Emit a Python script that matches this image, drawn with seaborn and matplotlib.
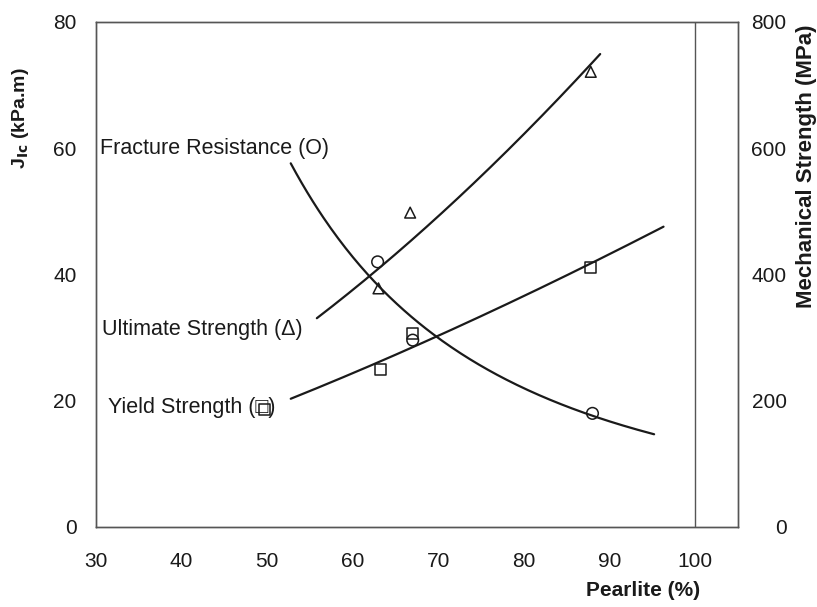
""" Fracture resistance and mechanical strength versus pearlite content
"""

import numpy as np
import pandas as pd
import matplotlib
matplotlib.use('Agg')
import matplotlib.pyplot as plt
import seaborn as sns

# Data
frac_pearlite = [62.9, 67.0, 88.0]
frac_jic = [42.0, 29.6, 18.0]            # kPa.m

uts_pearlite = [63.0, 66.7, 87.8]
uts_mpa = [378, 498, 721]                # MPa

ys_pearlite = [49.7, 63.2, 67.0, 87.8]
ys_mpa = [186, 249, 306, 411]            # MPa

# x extent of each drawn trendline
frac_range = (52.75, 95.2)
uts_range = (55.8, 88.9)
ys_range = (52.75, 96.3)


def power_trend(x, y, xr, n=200):
    # power law trendline, least squares in log-log space
    b, a = np.polyfit(np.log(x), np.log(y), 1)
    xs = np.linspace(xr[0], xr[1], n)
    return pd.DataFrame({'x': xs, 'y': np.exp(a) * xs ** b})


if __name__ == '__main__':

    sns.set_style('white')
    plt.rcParams['font.family'] = ['Liberation Sans', 'DejaVu Sans']

    fig = plt.figure(figsize=(8.17, 6.07), dpi=100)
    ax = fig.add_axes([0.1175, 0.1318, 0.7858, 0.832])
    ax2 = ax.twinx()

    line_kw = {'color': '#1a1a1a', 'lw': 1.6}
    mk_kw = {'facecolor': 'none', 'edgecolor': '#1a1a1a', 'linewidth': 1.1,
             'zorder': 5}

    # fracture resistance on the left axis
    sns.lineplot(data=power_trend(frac_pearlite, frac_jic, frac_range),
                 x='x', y='y', ax=ax, **line_kw)
    sns.scatterplot(x=frac_pearlite, y=frac_jic, ax=ax, marker='o', s=70,
                    **mk_kw)

    # strengths on the right axis
    sns.lineplot(data=power_trend(uts_pearlite, uts_mpa, uts_range),
                 x='x', y='y', ax=ax2, **line_kw)
    sns.lineplot(data=power_trend(ys_pearlite, ys_mpa, ys_range),
                 x='x', y='y', ax=ax2, **line_kw)
    sns.scatterplot(x=uts_pearlite, y=uts_mpa, ax=ax2, marker='^', s=60,
                    **mk_kw)
    sns.scatterplot(x=ys_pearlite, y=ys_mpa, ax=ax2, marker='s', s=60,
                    **mk_kw)

    ax.axvline(100, color='#555555', lw=1.0)

    ax.set_xlim(30, 105)
    ax.set_ylim(0, 80)
    ax2.set_ylim(0, 800)
    ax.set_xticks(np.arange(30, 101, 10))
    ax.set_yticks(np.arange(0, 81, 20))
    ax2.set_yticks(np.arange(0, 801, 200))

    for a in (ax, ax2):
        for s in a.spines.values():
            s.set_color('#555555')
            s.set_linewidth(1.0)

    ax.tick_params(axis='x', direction='out', length=4, width=1,
                   color='#555555', pad=14, labelsize=15, labelcolor='#1a1a1a')
    ax.tick_params(axis='y', length=0, pad=14, labelsize=15,
                   labelcolor='#1a1a1a')
    ax2.tick_params(axis='y', length=0, pad=35, labelsize=15,
                    labelcolor='#1a1a1a')
    for lbl in ax2.get_yticklabels():
        lbl.set_horizontalalignment('right')

    # axis labels
    ax.set_xlabel('Pearlite (%)', fontsize=15, fontweight='bold',
                  color='#1a1a1a')
    ax.xaxis.set_label_coords(0.852, -0.125)
    ax.xaxis.label.set_va('center')

    ax.set_ylabel(r'J$_{\mathbf{Ic}}$ (kPa.m)', fontsize=14,
                  fontweight='bold', color='#1a1a1a')
    ax.yaxis.set_label_coords(-0.118, 0.81)
    ax.yaxis.label.set_va('center')

    ax2.set_ylabel('Mechanical Strength (MPa)', fontsize=16,
                   fontweight='bold', color='#1a1a1a')
    ax2.yaxis.set_label_coords(1.106, 0.715)
    ax2.yaxis.label.set_va('center')

    # curve names
    txt_kw = {'fontsize': 15.5, 'color': '#1a1a1a', 'va': 'center'}
    ax.text(30.5, 59.9, 'Fracture Resistance (O)', **txt_kw)
    ax.text(30.7, 31.3, 'Ultimate Strength (\u0394)', **txt_kw)
    ax.text(31.4, 19.0, 'Yield Strength (\u25a1)', **txt_kw)

    plt.savefig('out.png', format='png', dpi=100)
